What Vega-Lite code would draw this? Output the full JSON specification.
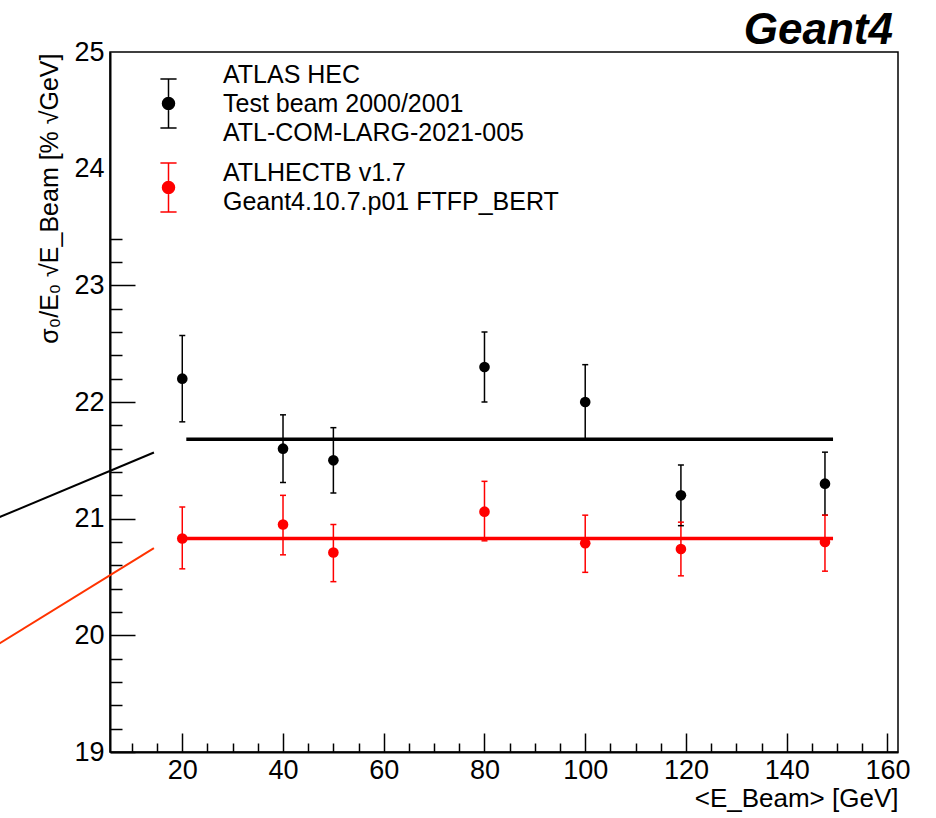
{
  "$schema": "https://vega.github.io/schema/vega-lite/v6.json",
  "autosize": "none",
  "width": 788,
  "height": 700,
  "padding": {"left": 110, "top": 52, "right": 38, "bottom": 66},
  "background": "white",
  "config": {
    "view": {"stroke": "#000000", "strokeWidth": 1.5},
    "font": "Liberation Sans",
    "axis": {
      "grid": false,
      "ticks": true,
      "labelOverlap": false,
      "labelFlush": false,
      "domainColor": "#000000",
      "domainWidth": 2,
      "tickColor": "#000000",
      "tickWidth": 1.5,
      "labelFont": "Liberation Sans",
      "labelFontSize": 27,
      "labelColor": "#000000",
      "titleFont": "Liberation Sans",
      "titleFontSize": 26,
      "titleFontWeight": "normal",
      "titleColor": "#000000"
    }
  },
  "title": {
    "text": "Geant4",
    "anchor": "end",
    "frame": "group",
    "font": "Liberation Sans",
    "fontSize": 44,
    "fontStyle": "italic",
    "fontWeight": "bold",
    "color": "#000000",
    "baseline": "bottom",
    "offset": 1,
    "dx": -5,
    "dy": 60
  },
  "resolve": {"axis": {"x": "independent", "y": "independent"}},
  "datasets": {
    "points": [
      {"E": 20, "v": 22.20, "lo": 21.83, "hi": 22.57, "series": "data"},
      {"E": 40, "v": 21.60, "lo": 21.31, "hi": 21.89, "series": "data"},
      {"E": 50, "v": 21.50, "lo": 21.22, "hi": 21.78, "series": "data"},
      {"E": 80, "v": 22.30, "lo": 22.00, "hi": 22.60, "series": "data"},
      {"E": 100, "v": 22.00, "lo": 21.68, "hi": 22.32, "series": "data"},
      {"E": 119, "v": 21.20, "lo": 20.94, "hi": 21.46, "series": "data"},
      {"E": 147.6, "v": 21.30, "lo": 21.03, "hi": 21.57, "series": "data"},
      {"E": 20, "v": 20.83, "lo": 20.57, "hi": 21.10, "series": "sim"},
      {"E": 40, "v": 20.95, "lo": 20.69, "hi": 21.20, "series": "sim"},
      {"E": 50, "v": 20.71, "lo": 20.46, "hi": 20.95, "series": "sim"},
      {"E": 80, "v": 21.06, "lo": 20.81, "hi": 21.32, "series": "sim"},
      {"E": 100, "v": 20.79, "lo": 20.54, "hi": 21.03, "series": "sim"},
      {"E": 119, "v": 20.74, "lo": 20.51, "hi": 20.97, "series": "sim"},
      {"E": 147.6, "v": 20.80, "lo": 20.55, "hi": 21.03, "series": "sim"}
    ],
    "fits": [
      {"E": 20.8, "v": 21.68, "series": "data"},
      {"E": 149.2, "v": 21.68, "series": "data"},
      {"E": 20.2, "v": 20.83, "series": "sim"},
      {"E": 149.2, "v": 20.83, "series": "sim"}
    ],
    "stray": [
      {"E": -17, "v": 21.0, "series": "data"},
      {"E": 14.37, "v": 21.567, "series": "data"},
      {"E": -17, "v": 19.912, "series": "sim"},
      {"E": 14.37, "v": 20.747, "series": "sim"}
    ]
  },
  "layer": [
    {
      "data": {"name": "fits"},
      "mark": {"type": "line", "strokeWidth": 3.5},
      "encoding": {
        "x": {
          "field": "E", "type": "quantitative",
          "title": "<E_Beam> [GeV]",
          "scale": {"domain": [5.65, 162.1], "nice": false, "zero": false},
          "axis": {
            "values": [10,15,20,25,30,35,40,45,50,55,60,65,70,75,80,85,90,95,100,105,110,115,120,125,130,135,140,145,150,155,160],
            "labelExpr": "datum.value % 20 === 0 ? format(datum.value, 'd') : ''",
            "labelFontSize": {"condition": {"test": "datum.value % 20 === 0", "value": 27}, "value": 1},
            "tickSize": {"condition": {"test": "datum.value % 20 === 0", "value": -19}, "value": -9},
            "labelPadding": 24,
            "labelOverlap": false,
            "titleX": 788,
            "titleY": 54,
            "titleAlign": "right",
            "titleBaseline": "alphabetic"
          }
        },
        "y": {
          "field": "v", "type": "quantitative",
          "title": "σ₀/E₀ √E_Beam [% √GeV]",
          "scale": {"domain": [19, 25], "nice": false, "zero": false},
          "axis": {
            "values": [19,19.2,19.4,19.6,19.8,20,20.2,20.4,20.6,20.8,21,21.2,21.4,21.6,21.8,22,22.2,22.4,22.6,22.8,23,23.2,23.4,23.6,23.8,24,24.2,24.4,24.6,24.8,25],
            "labelExpr": "abs(datum.value - round(datum.value)) < 0.01 ? format(datum.value, 'd') : ''",
            "labelFontSize": {"condition": {"test": "abs(datum.value - round(datum.value)) < 0.01", "value": 27}, "value": 1},
            "tickSize": {"condition": {"test": "abs(datum.value - round(datum.value)) < 0.01", "value": -25}, "value": -12},
            "tickOpacity": {"condition": {"test": "datum.value > 23.5", "value": 0}, "value": 1},
            "labelPadding": 31,
            "labelOverlap": false,
            "titleFontSize": 25,
            "titleX": -53,
            "titleY": 1,
            "titleAlign": "right",
            "titleBaseline": "alphabetic",
            "titleAngle": -90
          }
        },
        "color": {
          "field": "series", "type": "nominal",
          "scale": {"domain": ["data", "sim"], "range": ["#000000", "#ff0000"]}
        }
      }
    },
    {
      "data": {"name": "stray"},
      "transform": [{"filter": "datum.series === 'data'"}],
      "mark": {"type": "line", "strokeWidth": 2, "color": "#000000", "clip": false},
      "encoding": {
        "x": {"field": "E", "type": "quantitative", "axis": null},
        "y": {"field": "v", "type": "quantitative", "axis": null}
      }
    },
    {
      "data": {"name": "stray"},
      "transform": [{"filter": "datum.series === 'sim'"}],
      "mark": {"type": "line", "strokeWidth": 2, "color": "#ff3300", "clip": false},
      "encoding": {
        "x": {"field": "E", "type": "quantitative", "axis": null},
        "y": {"field": "v", "type": "quantitative", "axis": null}
      }
    },
    {
      "data": {"name": "points"},
      "mark": {"type": "rule", "strokeWidth": 1.5},
      "encoding": {
        "x": {"field": "E", "type": "quantitative", "axis": null},
        "y": {"field": "lo", "type": "quantitative", "axis": null},
        "y2": {"field": "hi"},
        "color": {"field": "series", "type": "nominal"}
      }
    },
    {
      "data": {"name": "points"},
      "mark": {"type": "tick", "size": 6, "thickness": 1.5, "orient": "horizontal", "opacity": 1},
      "encoding": {
        "x": {"field": "E", "type": "quantitative", "axis": null},
        "y": {"field": "lo", "type": "quantitative", "axis": null},
        "color": {"field": "series", "type": "nominal"}
      }
    },
    {
      "data": {"name": "points"},
      "mark": {"type": "tick", "size": 6, "thickness": 1.5, "orient": "horizontal", "opacity": 1},
      "encoding": {
        "x": {"field": "E", "type": "quantitative", "axis": null},
        "y": {"field": "hi", "type": "quantitative", "axis": null},
        "color": {"field": "series", "type": "nominal"}
      }
    },
    {
      "data": {"name": "points"},
      "mark": {"type": "point", "filled": true, "shape": "circle", "size": 113, "opacity": 1},
      "encoding": {
        "x": {"field": "E", "type": "quantitative", "axis": null},
        "y": {"field": "v", "type": "quantitative", "axis": null},
        "color": {
          "field": "series", "type": "nominal",
          "legend": {
            "orient": "none",
            "legendX": 33,
            "legendY": 26,
            "title": null,
            "padding": 0,
            "symbolType": "M0,-1L0,1M-0.33,-1L0.33,-1M-0.33,1L0.33,1M0.245,0A0.245,0.245,0,1,1,-0.245,0A0.245,0.245,0,1,1,0.245,0Z",
            "symbolSize": 2401,
            "symbolStrokeWidth": 1.5,
            "symbolOpacity": 1,
            "labelFont": "Liberation Sans",
            "labelFontSize": 25,
            "labelColor": "#000000",
            "labelOffset": 29,
            "labelLimit": 700,
            "rowPadding": 14,
            "labelExpr": "datum.value === 'data' ? ['ATLAS HEC', 'Test beam 2000/2001', 'ATL-COM-LARG-2021-005'] : ['ATLHECTB v1.7', 'Geant4.10.7.p01 FTFP_BERT']",
            "encode": {
              "symbols": {"update": {
                "shape": {"value": "M0,-1L0,1M-0.33,-1L0.33,-1M-0.33,1L0.33,1M0.245,0A0.245,0.245,0,1,1,-0.245,0A0.245,0.245,0,1,1,0.245,0Z"},
                "size": {"value": 2401},
                "fill": {"scale": "color", "field": "value"},
                "stroke": {"scale": "color", "field": "value"},
                "strokeWidth": {"value": 1.5},
                "opacity": {"value": 1},
                "fillOpacity": {"value": 1},
                "strokeOpacity": {"value": 1}
              }},
              "labels": {
                "enter": {"lineHeight": {"value": 29}},
                "update": {
                  "lineHeight": {"value": 29},
                  "dy": {"signal": "datum.value === 'data' ? -29 : -14.5"}
                }
              }
            }
          }
        }
      }
    }
  ]
}
